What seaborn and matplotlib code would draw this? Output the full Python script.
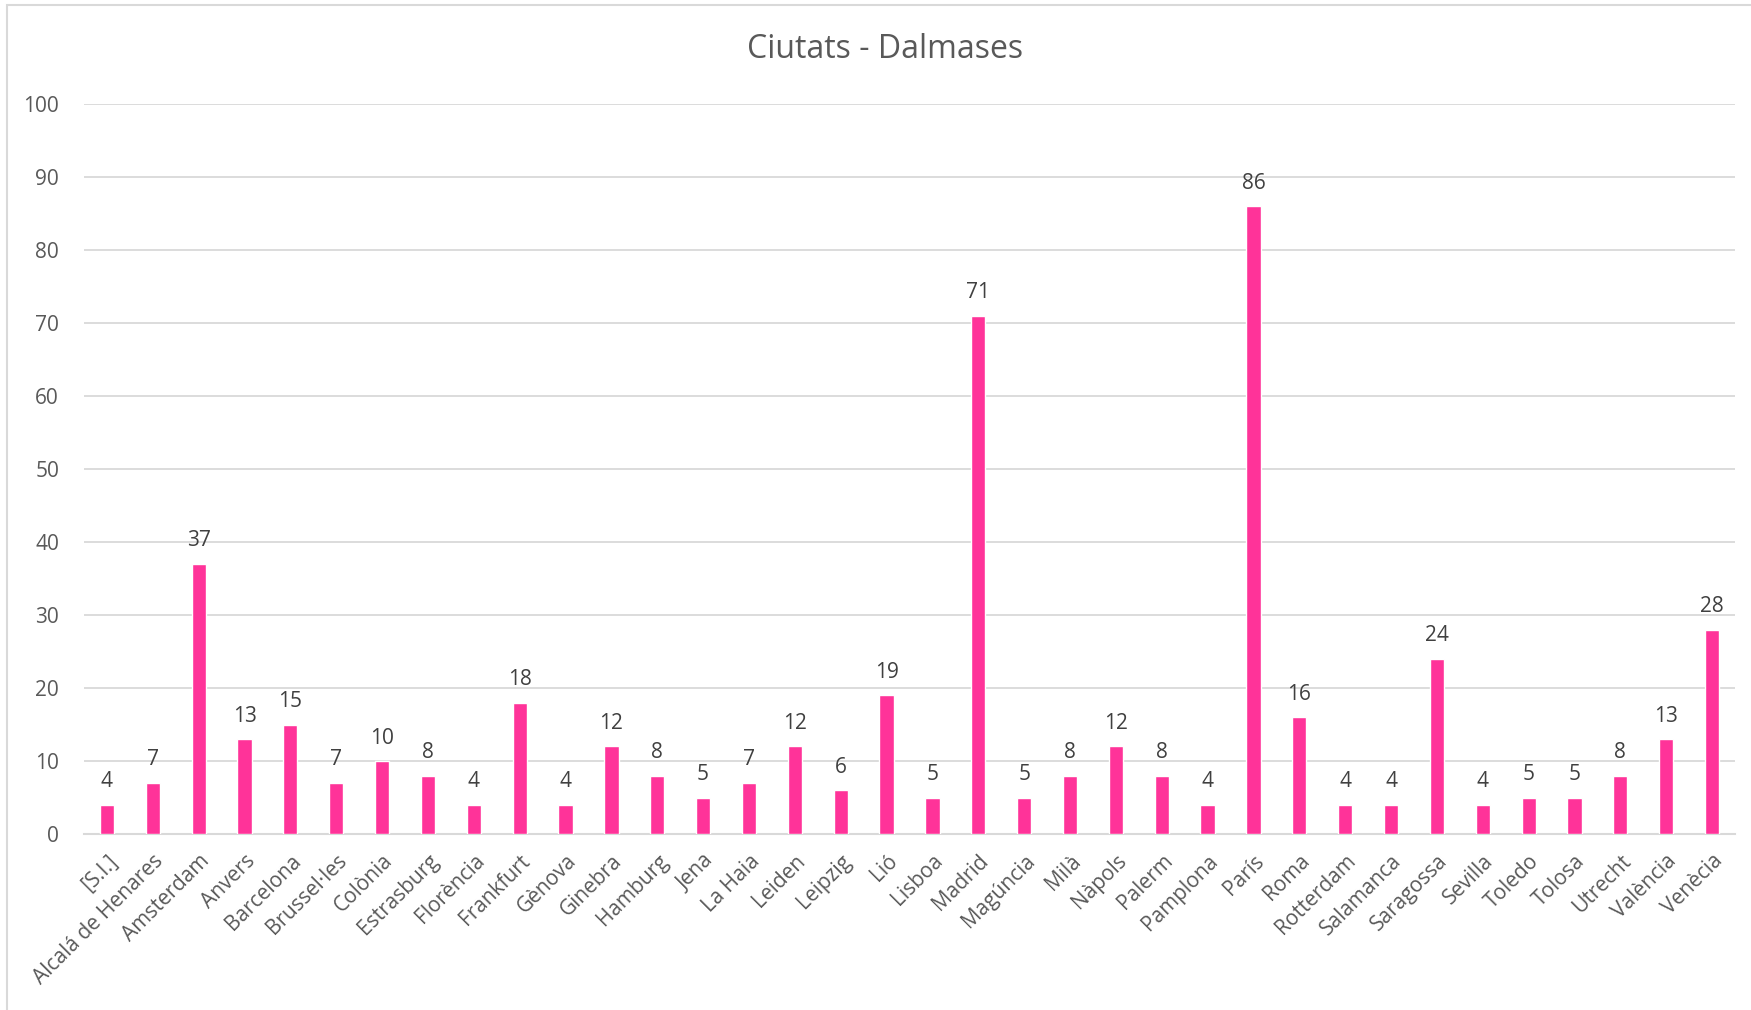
import matplotlib
matplotlib.use("Agg")
import matplotlib.pyplot as plt
import seaborn as sns
import pandas as pd
from matplotlib.patches import Rectangle

cities = [
    "[S.I.]", "Alcalá de Henares", "Amsterdam", "Anvers", "Barcelona",
    "Brussel·les", "Colònia", "Estrasburg", "Florència", "Frankfurt",
    "Gènova", "Ginebra", "Hamburg", "Jena", "La Haia", "Leiden", "Leipzig",
    "Lió", "Lisboa", "Madrid", "Magúncia", "Milà", "Nàpols", "Palerm",
    "Pamplona", "París", "Roma", "Rotterdam", "Salamanca", "Saragossa",
    "Sevilla", "Toledo", "Tolosa", "Utrecht", "València", "Venècia",
]
counts = [
    4, 7, 37, 13, 15,
    7, 10, 8, 4, 18,
    4, 12, 8, 5, 7, 12, 6,
    19, 5, 71, 5, 8, 12, 8,
    4, 86, 16, 4, 4, 24,
    4, 5, 5, 8, 13, 28,
]
y_ticks = [0, 10, 20, 30, 40, 50, 60, 70, 80, 90, 100]
title = "Ciutats - Dalmases"

df = pd.DataFrame({"ciutat": cities, "n": counts})

sns.set_theme(style="white")
plt.rcParams["font.family"] = ["Open Sans", "DejaVu Sans"]

W, H = 1751, 1010
fig = plt.figure(figsize=(W / 100, H / 100), dpi=100)
ax = fig.add_axes([84 / W, 1 - 834 / H, (1735 - 84) / W, (834 - 104) / H])

bar_color = "#FF3399"
text_color = "#595959"
grid_color = "#D9D9D9"

sns.barplot(data=df, x="ciutat", y="n", color=bar_color, width=0.31,
            saturation=1, ax=ax, zorder=3)

ax.set_ylim(0, 100)
ax.set_xlim(-0.5, len(cities) - 0.5)
ax.set_yticks(y_ticks)
ax.yaxis.grid(True, color=grid_color, linewidth=1.3, zorder=0)
ax.set_axisbelow(True)
for side in ["top", "right", "left"]:
    ax.spines[side].set_visible(False)
ax.spines["bottom"].set_color(grid_color)
ax.spines["bottom"].set_linewidth(1.5)
ax.tick_params(axis="both", length=0, colors=text_color, labelsize=15)
ax.tick_params(axis="y", pad=18)
ax.set_xlabel("")
ax.set_ylabel("")

ax.set_xticks(range(len(cities)))
ax.set_xticklabels(cities, rotation=45, ha="right", va="top",
                   rotation_mode="anchor", color=text_color, fontsize=15)
for lbl in ax.get_xticklabels():
    lbl.set_y(-0.016)

ax.bar_label(ax.containers[0], padding=9, color="#404040", fontsize=15)

fig.text(885 / W, 1 - 49 / H, title, ha="center", va="center",
         fontsize=23, color=text_color)

# chart-area border
fig.patches.append(Rectangle((7 / W, -0.1), 1.2, 1 - 5 / H + 0.1,
                             transform=fig.transFigure, fill=False,
                             edgecolor="#D9D9D9", linewidth=1.5))

fig.savefig("out.png", dpi=100, facecolor="white")
